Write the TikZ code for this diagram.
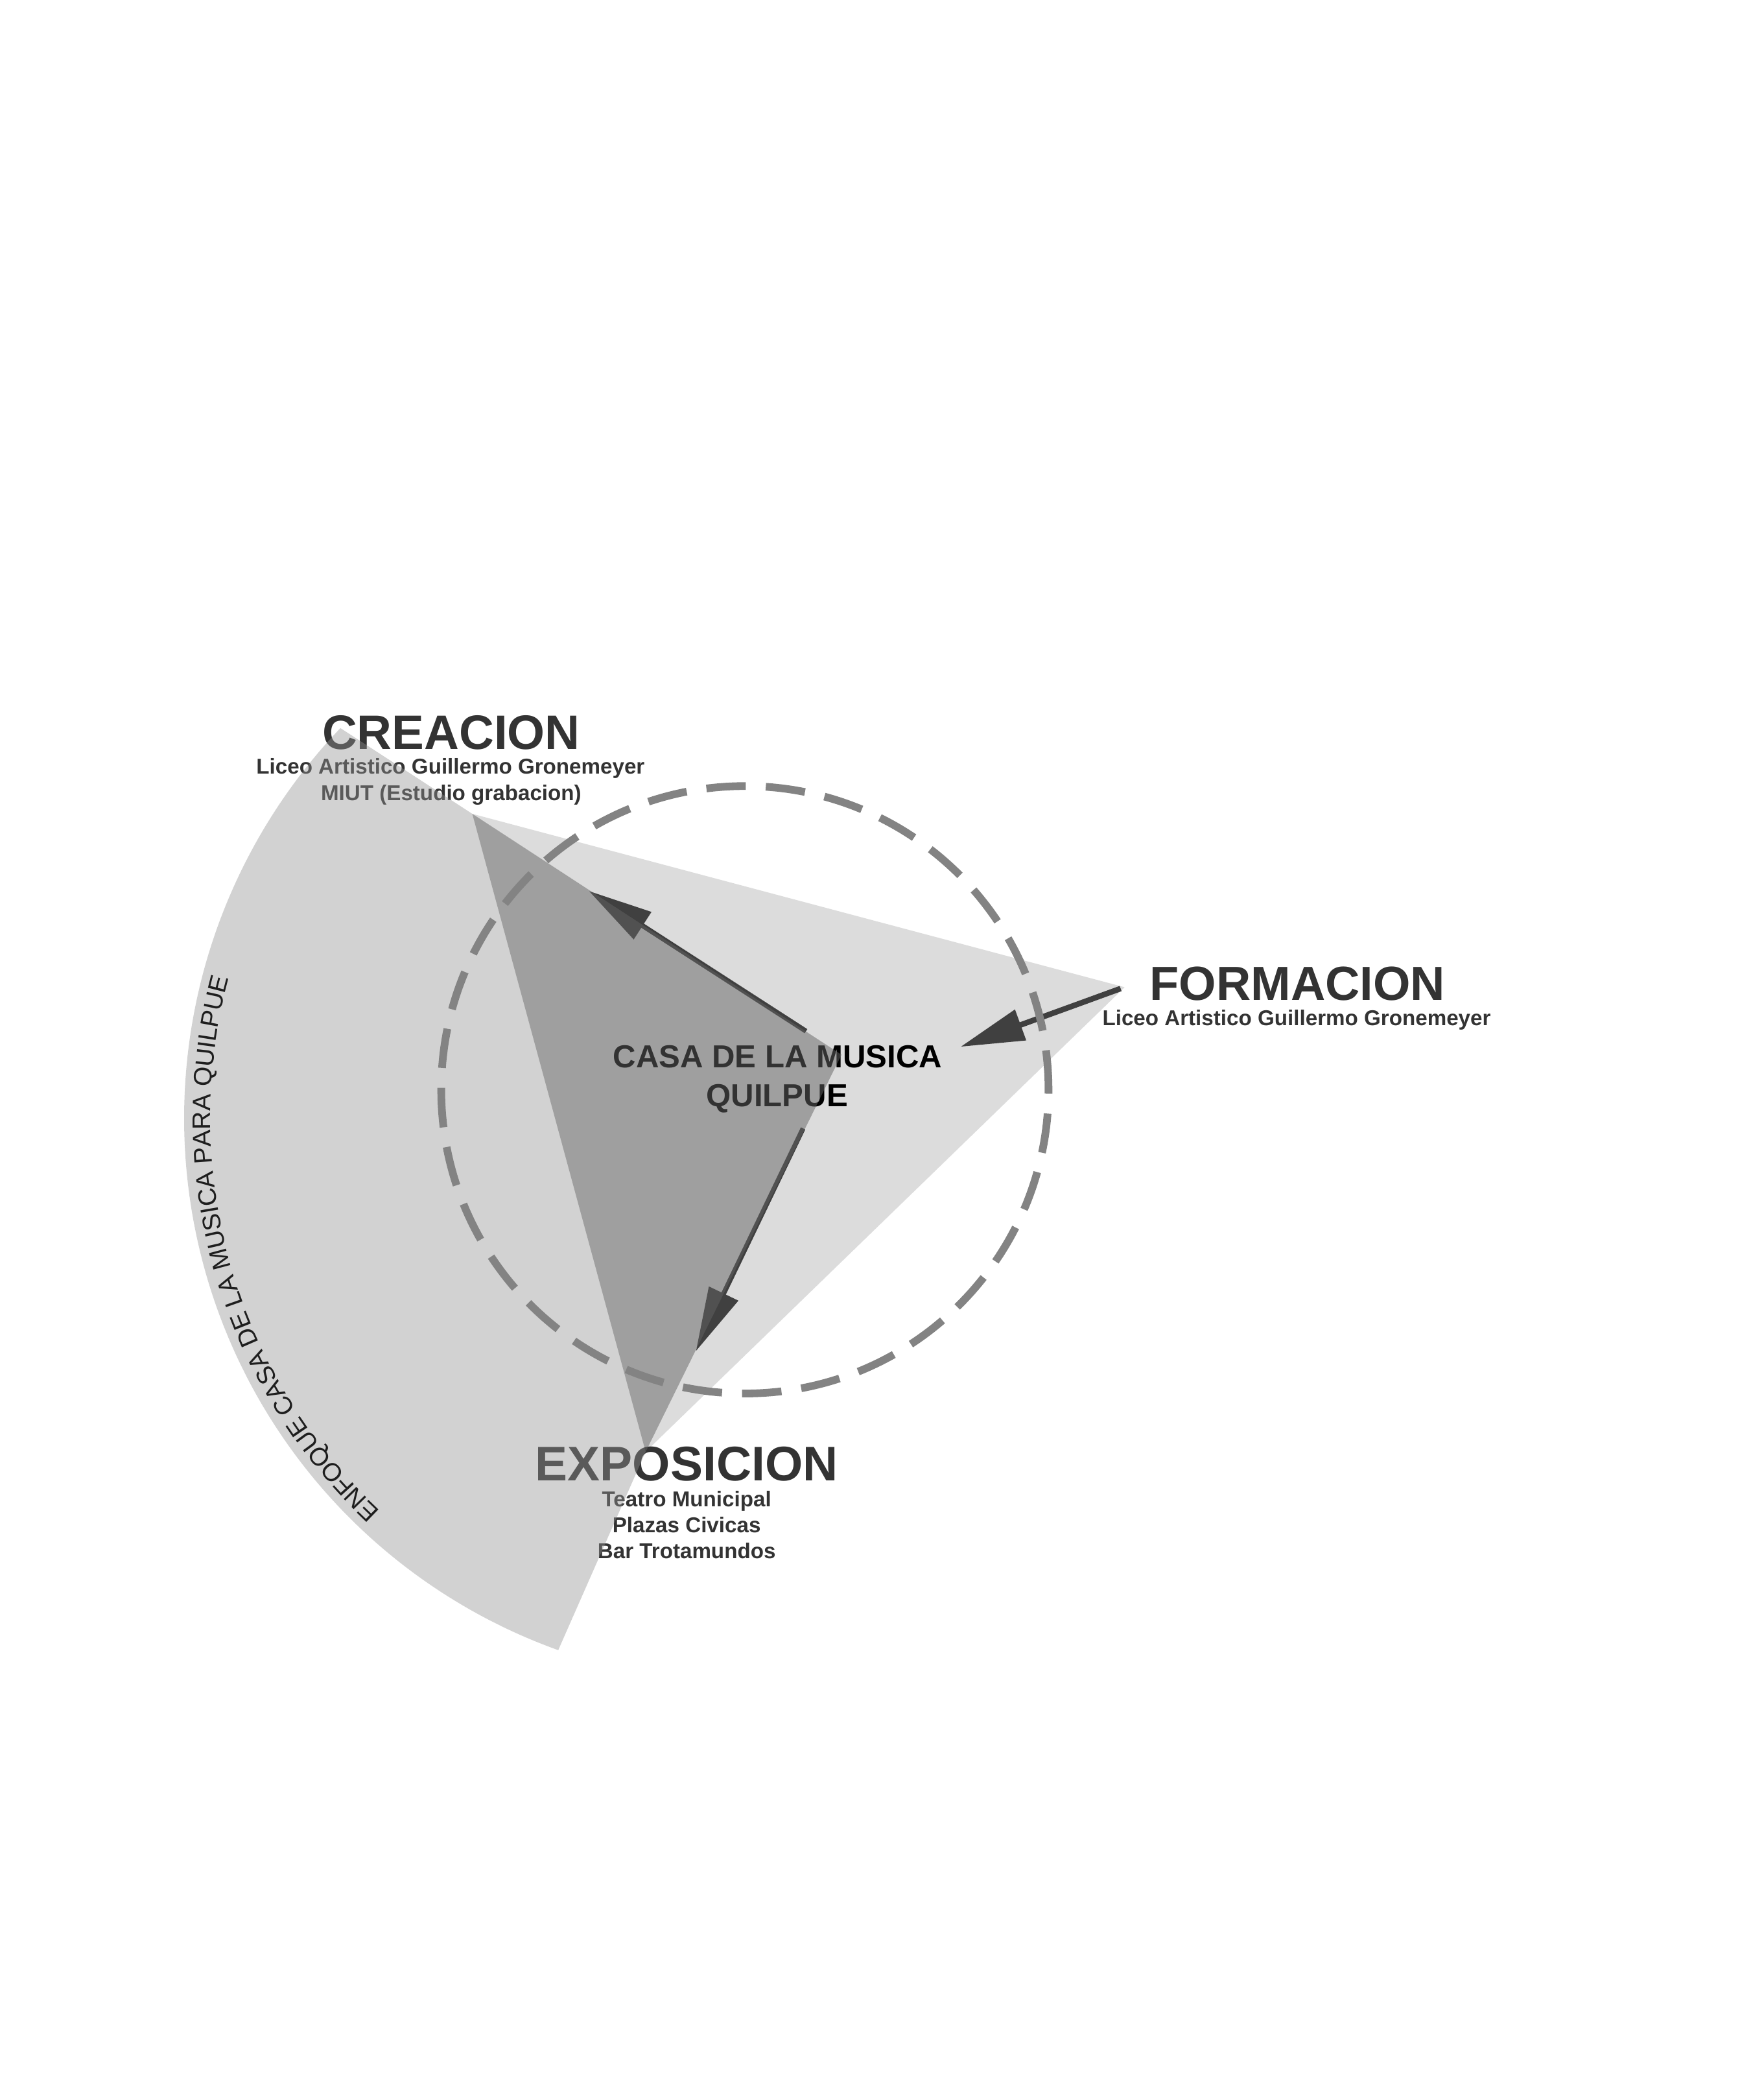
\documentclass[tikz,border=0pt]{standalone}
\usepackage{fontspec}
\usepackage{graphicx}
\setmainfont{Liberation Sans}
\usetikzlibrary{arrows.meta,decorations.text,calc}
\definecolor{lighttri}{HTML}{DCDCDC}
\definecolor{fangray}{HTML}{929292}
\definecolor{txtgray}{HTML}{333333}
\definecolor{arrowgray}{HTML}{404040}
\definecolor{dashgray}{HTML}{838383}
\definecolor{curvegray}{HTML}{1E1E1E}
\newcommand{\curvefont}{\fontsize{10.9}{12}\selectfont}
\begin{document}
\begin{tikzpicture}[x=0.02cm,y=0.02cm,
  titletext/.style={inner sep=0pt, anchor=base, text=txtgray, font=\bfseries\fontsize{20.8}{24}\selectfont},
  subtext/.style={inner sep=0pt, anchor=base, text=txtgray, font=\bfseries\fontsize{9.25}{11}\selectfont},
  casatext/.style={inner sep=0pt, anchor=base, text=black, font=\bfseries\fontsize{13.7}{16}\selectfont},
  flow/.style={draw=arrowgray, line width=2.1pt, -{Triangle[length=27.5pt,width=13.5pt]}},
  ringstyle/.style={draw=dashgray, line width=3.3pt, dash pattern=on 17pt off 8.6pt},
]
\fill[white] (0,0) rectangle (1333,-1568);
\useasboundingbox (0,0) rectangle (1333,-1568);

% key points
\coordinate (C) at (357,-615);
\coordinate (M) at (636,-797);
\coordinate (E) at (488,-1097);
\coordinate (F) at (850,-746);
\coordinate (ftop) at (257.3,-550.2);
\coordinate (fbot) at (421.8,-1246.8);
\coordinate (fc) at (566,-845);
\coordinate (ringc) at (563,-823.5);

% light triangle
\fill[lighttri] (C) -- (F) -- (E) -- cycle;

% texts
\node[titletext] (creacion) at (341,-566.4) {CREACION};
\node[subtext] (creacionA) at (340.5,-585) {Liceo Artistico Guillermo Gronemeyer};
\node[subtext] (creacionB) at (341,-604.8) {MIUT (Estudio grabacion)};

\node[titletext, font=\bfseries\fontsize{20.6}{24}\selectfont] (formacion) at (980.7,-756) {FORMACION};
\node[subtext] (formacionA) at (980,-775.1) {Liceo Artistico Guillermo Gronemeyer};

\node[casatext] (casaA) at (587.7,-806.6) {CASA DE LA MUSICA};
\node[casatext] (casaB) at (587.3,-836.3) {QUILPUE};

\node[titletext, font=\bfseries\fontsize{20.9}{24}\selectfont] (exposicion) at (519,-1119) {EXPOSICION};
\node[subtext] (expoA) at (519,-1138.6) {Teatro Municipal};
\node[subtext] (expoB) at (519,-1158.2) {Plazas Civicas};
\node[subtext] (expoC) at (519,-1177.8) {Bar Trotamundos};

% arrows
\coordinate (s1) at (609.2,-779.2); \coordinate (t1) at (445.1,-673.3);
\coordinate (s2) at (607,-852.7);   \coordinate (t2) at (526,-1021);
\coordinate (s3) at (847,-747);     \coordinate (t3) at (726,-791);
\draw[flow] (s1) -- (t1);
\draw[flow] (s2) -- (t2);
\draw[flow, line width=2.4pt] (s3) -- (t3);

% fan (translucent, over text)
\fill[fangray, fill opacity=0.41] (M) -- (C) -- (ftop)
  arc[start angle=136.33, end angle=250.26, radius=427] -- (E) -- cycle;
% dark overlap
\fill[black, fill opacity=0.157] (C) -- (M) -- (E) -- cycle;

% dashed ring
\draw[ringstyle] (ringc) circle[radius=229.5];

% curved text
\path[decorate, decoration={text along path,
  text={|\curvefont\color{curvegray}|ENFOQUE CASA DE LA MUSICA PARA QUILPUE}}]
  ($(fc)+(226.8:407)$) arc[start angle=226.8, end angle=150, radius=407];
\end{tikzpicture}
\end{document}
